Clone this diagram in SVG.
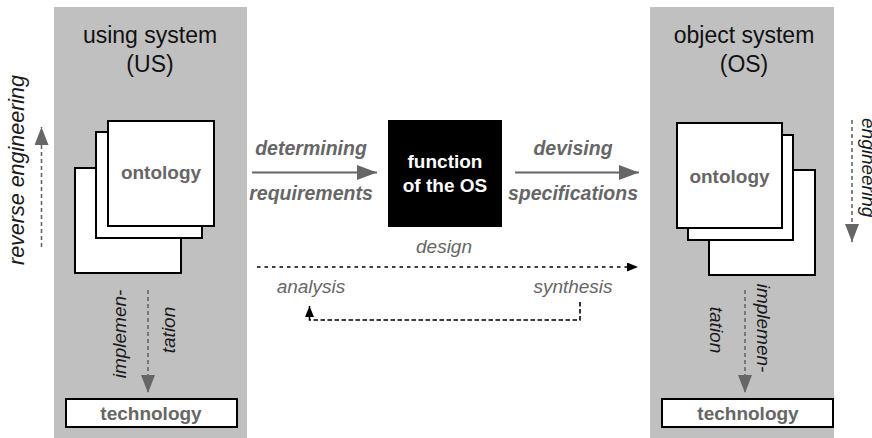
<svg xmlns="http://www.w3.org/2000/svg" width="872" height="438" viewBox="0 0 872 438">
  <style>
    .panel { fill: #c0c0c0; }
    .sheet { fill: #fff; stroke: #000; stroke-width: 2; }
    .title { font-family: "Liberation Sans", Arial, sans-serif; font-size: 23px; fill: #111; text-anchor: middle; }
    .node-label { font-family: "Liberation Sans", Arial, sans-serif; font-size: 19px; font-weight: bold; fill: #666; text-anchor: middle; }
    .fn-label { font-family: "Liberation Sans", Arial, sans-serif; font-size: 19px; font-weight: bold; fill: #fff; text-anchor: middle; }
    .verb { font-family: "Liberation Sans", Arial, sans-serif; font-size: 19.5px; font-weight: bold; font-style: italic; fill: #666; text-anchor: middle; }
    .note { font-family: "Liberation Sans", Arial, sans-serif; font-size: 19px; font-style: italic; fill: #666; text-anchor: middle; }
    .side { font-family: "Liberation Sans", Arial, sans-serif; font-size: 19px; font-style: italic; fill: #1a1a1a; text-anchor: middle; }
    .solid-gray { stroke: #666; stroke-width: 2; fill: none; }
    .dash-gray { stroke: #666; stroke-width: 1.6; stroke-dasharray: 4 3; fill: none; }
    .dotted { stroke: #000; stroke-width: 1.6; stroke-dasharray: 3.5 4; fill: none; }
    .dashed { stroke: #000; stroke-width: 1.6; stroke-dasharray: 4.5 2.5; fill: none; }
  </style>
  <defs>
    <marker id="headGray" viewBox="0 0 20 15" refX="20" refY="7.5" markerWidth="20" markerHeight="15" markerUnits="userSpaceOnUse" orient="auto">
      <path d="M0,0 L20,7.5 L0,15 Z" fill="#666"/>
    </marker>
    <marker id="headGraySmall" viewBox="0 0 18 14" refX="18" refY="7" markerWidth="18" markerHeight="14" markerUnits="userSpaceOnUse" orient="auto">
      <path d="M0,0 L18,7 L0,14 Z" fill="#666"/>
    </marker>
    <marker id="headBlack" viewBox="0 0 11 9" refX="11" refY="4.5" markerWidth="11" markerHeight="9" markerUnits="userSpaceOnUse" orient="auto">
      <path d="M0,0 L11,4.5 L0,9 Z" fill="#000"/>
    </marker>
  </defs>

  <!-- using system column -->
  <g id="using-system">
    <rect class="panel" x="54" y="7" width="193" height="431"/>
    <text class="title" x="150" y="43">using system</text>
    <text class="title" x="150" y="72">(US)</text>
  </g>

  <!-- object system column -->
  <g id="object-system">
    <rect class="panel" x="650" y="7" width="184" height="431"/>
    <text class="title" x="744" y="43">object system</text>
    <text class="title" x="744" y="72">(OS)</text>
  </g>

  <g id="us-ontology">
    <rect class="sheet" x="75" y="168" width="106" height="105"/>
    <rect class="sheet" x="96" y="132" width="106" height="106"/>
    <rect class="sheet" x="108" y="121" width="106" height="105"/>
    <text class="node-label" x="161" y="179">ontology</text>
  </g>

  <g id="os-ontology">
    <rect class="sheet" x="709" y="170" width="106" height="105"/>
    <rect class="sheet" x="688" y="135" width="105" height="105"/>
    <rect class="sheet" x="677" y="123" width="105" height="105"/>
    <text class="node-label" x="729.5" y="183">ontology</text>
  </g>

  <g id="us-technology">
    <rect class="sheet" x="66" y="399" width="171" height="28"/>
    <text class="node-label" x="151" y="420">technology</text>
  </g>

  <g id="os-technology">
    <rect class="sheet" x="662" y="399" width="171" height="28"/>
    <text class="node-label" x="748" y="420">technology</text>
  </g>

  <g id="function-os">
    <rect x="388" y="120" width="114" height="107" fill="#000"/>
    <text class="fn-label" x="445" y="168">function</text>
    <text class="fn-label" x="445" y="192">of the OS</text>
  </g>

  <g id="connectors">
    <!-- determining requirements -->
    <line class="solid-gray" x1="252" y1="172.5" x2="377" y2="172.5" marker-end="url(#headGray)"/>
    <text class="verb" x="311" y="155">determining</text>
    <text class="verb" x="311" y="200">requirements</text>

    <!-- devising specifications -->
    <line class="solid-gray" x1="515" y1="172.5" x2="639" y2="172.5" marker-end="url(#headGray)"/>
    <text class="verb" x="573" y="155">devising</text>
    <text class="verb" x="573" y="200">specifications</text>

    <!-- design -->
    <text class="note" x="444" y="253">design</text>
    <line class="dotted" x1="257" y1="267" x2="638" y2="267" marker-end="url(#headBlack)"/>
    <text class="note" x="311" y="293">analysis</text>
    <text class="note" x="573" y="293">synthesis</text>

    <!-- synthesis back to analysis -->
    <path class="dashed" d="M580,302 L580,320 L309.5,320 L309.5,306" marker-end="url(#headBlack)"/>

    <!-- reverse engineering -->
    <line class="dash-gray" x1="41.5" y1="247" x2="41.5" y2="127" marker-end="url(#headGraySmall)"/>
    <text class="side" transform="translate(24,170) rotate(-90)" style="font-size:21.5px">reverse engineering</text>

    <!-- engineering -->
    <line class="dash-gray" x1="852" y1="120" x2="852" y2="242" marker-end="url(#headGraySmall)"/>
    <text class="side" transform="translate(862,118) rotate(90)" style="text-anchor:start">engineering</text>

    <!-- implementation, US -->
    <line class="dash-gray" x1="148" y1="290" x2="148" y2="393" marker-end="url(#headGraySmall)"/>
    <text class="side" transform="translate(126,334) rotate(-90)">implemen-</text>
    <text class="side" transform="translate(175,330) rotate(-90)">tation</text>

    <!-- implementation, OS -->
    <line class="dash-gray" x1="745" y1="290" x2="745" y2="393" marker-end="url(#headGraySmall)"/>
    <text class="side" transform="translate(757,328) rotate(90)">implemen-</text>
    <text class="side" transform="translate(710,330) rotate(90)">tation</text>
  </g>
</svg>
